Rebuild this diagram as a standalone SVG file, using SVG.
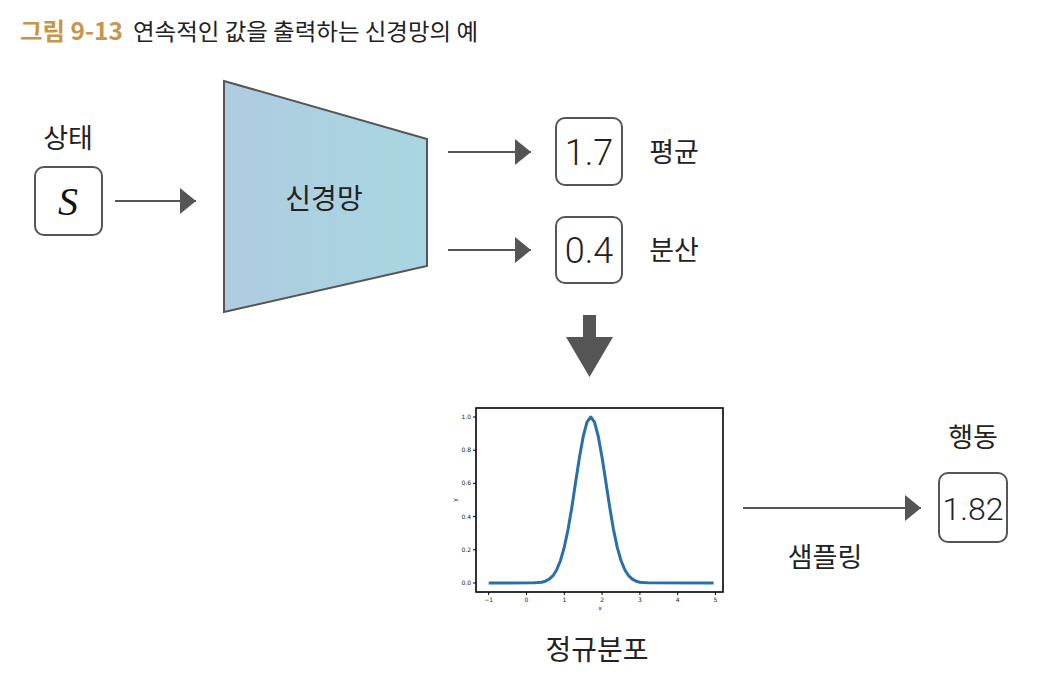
<svg xmlns="http://www.w3.org/2000/svg" width="1060" height="688" viewBox="0 0 1060 688">
<defs>
<linearGradient id="nn" x1="0" y1="0" x2="1" y2="0">
<stop offset="0" stop-color="#afcce0"/>
<stop offset="1" stop-color="#a8d6e1"/>
</linearGradient>
<marker id="ah" viewBox="0 0 16 26" refX="16" refY="13" markerWidth="16" markerHeight="26" markerUnits="userSpaceOnUse" orient="auto">
<path d="M0,0 L16,13 L0,26 Z" fill="#555"/>
</marker>
<style>
.kr{font-family:"Noto Sans CJK KR","Noto Sans",sans-serif;fill:#222;}
.num{font-family:Roboto,"Liberation Sans",sans-serif;font-weight:300;fill:#222;}
.box{fill:#fff;stroke:#555;stroke-width:2;}
.conn{stroke:#555;stroke-width:2;fill:none;}
.tick{font-family:"DejaVu Sans",sans-serif;font-size:6px;fill:#222;}
.tk{stroke:#000;stroke-width:1;}
</style>
</defs>
<rect width="1060" height="688" fill="#fff"/>
<g id="title">
<text x="20" y="40" style="font-family:'Noto Sans CJK KR',sans-serif;font-size:24px;font-weight:700;fill:#c8954a" textLength="103" lengthAdjust="spacingAndGlyphs">그림 9-13</text>
<text x="133" y="40" class="kr" style="font-size:23px" textLength="345" lengthAdjust="spacingAndGlyphs">연속적인 값을 출력하는 신경망의 예</text>
</g>
<g id="state">
<text x="68" y="148" class="kr" text-anchor="middle" style="font-size:27px">상태</text>
<rect x="35" y="167" width="67" height="68" rx="9" class="box"/>
<text x="68" y="215" text-anchor="middle" style="font-family:'Liberation Serif',serif;font-style:italic;font-size:40px;fill:#111">S</text>
</g>
<g id="network">
<polygon points="224,81 427,139 427,266 224,312" fill="url(#nn)" stroke="#555" stroke-width="2"/>
<text x="324" y="209" class="kr" text-anchor="middle" style="font-size:28px">신경망</text>
</g>
<g id="mean">
<rect x="556" y="118" width="66" height="67" rx="9" class="box"/>
<text x="589" y="165" class="num" text-anchor="middle" style="font-size:36px">1.7</text>
<text x="674" y="162" class="kr" text-anchor="middle" style="font-size:27px">평균</text>
</g>
<g id="variance">
<rect x="556" y="217" width="66" height="66" rx="9" class="box"/>
<text x="589" y="263" class="num" text-anchor="middle" style="font-size:36px">0.4</text>
<text x="674" y="260" class="kr" text-anchor="middle" style="font-size:27px">분산</text>
</g>
<g id="distribution">
<rect x="476" y="408" width="247" height="184" fill="#fff" stroke="#000" stroke-width="1.6"/>
<g class="tk">
<line x1="473" y1="417" x2="476" y2="417"/><line x1="473" y1="450.2" x2="476" y2="450.2"/><line x1="473" y1="483.4" x2="476" y2="483.4"/><line x1="473" y1="516.6" x2="476" y2="516.6"/><line x1="473" y1="549.8" x2="476" y2="549.8"/><line x1="473" y1="583" x2="476" y2="583"/>
<line x1="488.7" y1="592" x2="488.7" y2="595"/><line x1="526.5" y1="592" x2="526.5" y2="595"/><line x1="564.3" y1="592" x2="564.3" y2="595"/><line x1="602.1" y1="592" x2="602.1" y2="595"/><line x1="639.9" y1="592" x2="639.9" y2="595"/><line x1="677.7" y1="592" x2="677.7" y2="595"/><line x1="715.5" y1="592" x2="715.5" y2="595"/>
</g>
<g class="tick" text-anchor="end">
<text x="471" y="419">1.0</text><text x="471" y="452.2">0.8</text><text x="471" y="485.4">0.6</text><text x="471" y="518.6">0.4</text><text x="471" y="551.8">0.2</text><text x="471" y="585">0.0</text>
</g>
<g class="tick" text-anchor="middle">
<text x="488.7" y="602">−1</text><text x="526.5" y="602">0</text><text x="564.3" y="602">1</text><text x="602.1" y="602">2</text><text x="639.9" y="602">3</text><text x="677.7" y="602">4</text><text x="715.5" y="602">5</text>
<text x="600" y="610">x</text>
<text x="0" y="0" transform="translate(457,500) rotate(-90)">y</text>
</g>
<polyline fill="none" stroke="#2a6fa8" stroke-width="3" stroke-linejoin="round" points="488.7,583 534.1,582.85 537.8,582.6 541.6,582.2 545.4,581.2 549.2,579.2 553.0,575.7 556.7,569.8 560.5,560.5 564.3,547.1 568.1,529.1 571.9,507.0 575.6,482.3 579.4,457.7 583.2,436.5 587.0,422.1 590.8,417 594.5,422.1 598.3,436.5 602.1,457.7 605.9,482.3 609.7,507.0 613.4,529.1 617.2,547.1 621.0,560.5 624.8,569.8 628.6,575.7 632.3,579.2 636.1,581.2 639.9,582.2 643.7,582.6 647.5,582.85 713.6,583"/>
<text x="597" y="660" class="kr" text-anchor="middle" style="font-size:28px">정규분포</text>
</g>
<g id="action">
<text x="973" y="447" class="kr" text-anchor="middle" style="font-size:27px">행동</text>
<rect x="939" y="473" width="68" height="69" rx="9" class="box"/>
<text x="973" y="520" class="num" text-anchor="middle" style="font-size:32px">1.82</text>
</g>
<g id="connectors">
<line x1="115" y1="201" x2="196" y2="201" class="conn" marker-end="url(#ah)"/>
<line x1="448" y1="152" x2="531" y2="152" class="conn" marker-end="url(#ah)"/>
<line x1="448" y1="250" x2="531" y2="250" class="conn" marker-end="url(#ah)"/>
<polygon points="583,315 596,315 596,337 613,337 589.5,377 566,337 583,337" fill="#555"/>
<line x1="743" y1="508" x2="921" y2="508" class="conn" marker-end="url(#ah)"/>
<text x="825" y="567" class="kr" text-anchor="middle" style="font-size:27px">샘플링</text>
</g>
</svg>
